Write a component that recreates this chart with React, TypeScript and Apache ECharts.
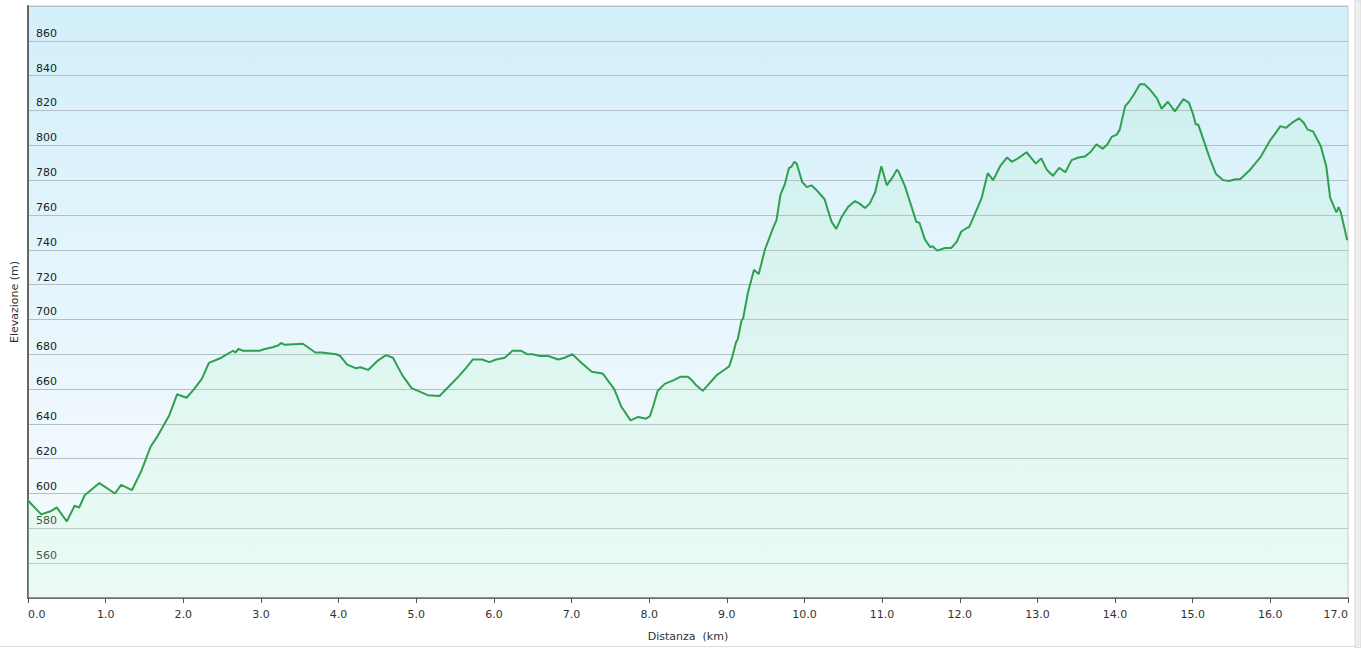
import React, { useEffect, useRef } from "react";
import * as echarts from "echarts";

const distanceKm = [
  0.0, 0.17, 0.3, 0.37, 0.5, 0.6, 0.66, 0.73, 0.92, 1.12, 1.2, 1.34, 1.46, 1.58, 1.67, 1.82, 1.92, 2.04, 2.14, 2.24,
  2.33, 2.49, 2.64, 2.67, 2.71, 2.77, 2.98, 3.05, 3.15, 3.22, 3.26, 3.3, 3.54, 3.7, 3.78, 3.97, 4.02, 4.11, 4.22, 4.28,
  4.38, 4.51, 4.61, 4.7, 4.82, 4.94, 5.15, 5.3, 5.41, 5.54, 5.64, 5.73, 5.85, 5.94, 6.03, 6.14, 6.24, 6.35, 6.43, 6.5,
  6.59, 6.7, 6.83, 6.91, 7.01, 7.13, 7.26, 7.4, 7.55, 7.64, 7.76, 7.86, 7.96, 8.01, 8.05, 8.11, 8.2, 8.31, 8.4, 8.5,
  8.54, 8.61, 8.69, 8.75, 8.82, 8.87, 8.95, 9.03, 9.07, 9.12, 9.14, 9.19, 9.21, 9.27, 9.35, 9.41, 9.49, 9.6, 9.64, 9.69,
  9.75, 9.8, 9.83, 9.87, 9.9, 9.97, 10.03, 10.09, 10.15, 10.22, 10.26, 10.3, 10.35, 10.41, 10.48, 10.56, 10.65, 10.71, 10.78, 10.84,
  10.91, 10.99, 11.06, 11.14, 11.19, 11.21, 11.29, 11.37, 11.44, 11.48, 11.55, 11.62, 11.65, 11.71, 11.81, 11.89, 11.96, 12.02, 12.09, 12.12,
  12.17, 12.28, 12.36, 12.43, 12.52, 12.61, 12.67, 12.75, 12.86, 12.98, 13.05, 13.12, 13.2, 13.28, 13.36, 13.44, 13.53, 13.61, 13.68, 13.76,
  13.84, 13.9, 13.96, 14.02, 14.06, 14.13, 14.18, 14.24, 14.32, 14.38, 14.45, 14.54, 14.6, 14.68, 14.77, 14.88, 14.95, 15.0, 15.04, 15.07,
  15.14, 15.22, 15.3, 15.39, 15.47, 15.55, 15.61, 15.74, 15.87, 16.0, 16.05, 16.13, 16.2, 16.28, 16.37, 16.43, 16.48, 16.55, 16.65, 16.72,
  16.77, 16.85, 16.88, 16.91, 16.99,
];

const elevationM = [
  596, 588, 590, 592, 584, 593, 592, 599, 606, 600, 605, 602, 613, 627, 633, 645, 657, 655, 660, 666,
  675, 678, 682, 681, 683, 682, 682, 683, 684, 685, 686.5, 685.5, 686, 681, 681, 680, 679, 674, 672, 672.5,
  671, 676.5, 679.5, 678, 668, 660.5, 656.5, 656, 661, 667, 672, 677, 677, 675.5, 677, 678, 682, 682, 680, 680,
  679, 679, 677, 678, 680, 675, 670, 669, 660, 650, 642, 644, 643, 644.5, 650, 659, 663, 665, 667, 667,
  665.5, 662, 659, 662, 665.5, 668, 670.5, 673, 678.5, 687, 688.5, 699.5, 700.5, 715, 728.5, 726, 740, 753, 757, 771.5,
  778, 787, 787.5, 790.5, 789.5, 779, 776, 777, 774.5, 771, 769, 763, 756, 752, 759, 764.5, 768, 766.5, 764, 766.5,
  773, 788, 777, 782, 786, 785, 777, 766, 756, 755.5, 746, 741.5, 742, 739.5, 741, 741, 744.5, 750.5, 752.5, 753,
  758, 769.5, 784, 780, 788, 793, 790.5, 792.5, 796, 789.5, 792.5, 786, 782.5, 787, 784.5, 791.5, 793, 793.5, 796, 800.5,
  798, 800.5, 805, 806, 809, 822.5, 825, 829, 835, 835, 832, 827, 821, 825, 819.5, 826.5, 824.5, 818.5, 812, 812,
  803, 792.5, 783.5, 780, 779.5, 780.5, 780.5, 786, 793, 803, 806, 811, 810, 813, 815.5, 813, 809, 808, 799.5, 788,
  770, 761.5, 764.5, 761, 745.5,
];

const xAxisTitle = "Distanza  (km)";
const yAxisTitle = "Elevazione (m)";

export default function App() {
  const ref = useRef<HTMLDivElement>(null);

  useEffect(() => {
    if (!ref.current) return;
    const chart = echarts.init(ref.current, undefined, { renderer: "svg" });
    const points = distanceKm.map((d, i) => [d, elevationM[i]]);
    const font = "DejaVu Sans";
    chart.setOption({
      animation: false,
      textStyle: { fontFamily: font },
      graphic: [
        { type: "rect", shape: { x: 1355, y: 0, width: 6, height: 648 }, style: { fill: "#eeeeee", stroke: "#d8d8d8", lineWidth: 1 }, silent: true },
        { type: "line", shape: { x1: 0, y1: 646.5, x2: 1355, y2: 646.5 }, style: { stroke: "#dddddd", lineWidth: 1 }, silent: true },
      ],
      grid: {
        left: 28,
        right: 13,
        top: 6,
        bottom: 50,
        show: true,
        borderColor: "#c4c9cc",
        borderWidth: 1,
        backgroundColor: new echarts.graphic.LinearGradient(0, 0, 0, 1, [
          { offset: 0, color: "#d2effa" },
          { offset: 0.7, color: "#eef8fd" },
          { offset: 1, color: "#f6fbfe" },
        ]),
      },
      xAxis: {
        type: "value",
        min: 0,
        max: 17,
        interval: 1,
        name: xAxisTitle,
        nameLocation: "middle",
        nameGap: 33,
        nameTextStyle: { fontFamily: font, fontSize: 11, color: "#333" },
        axisLine: { show: true, onZero: false, lineStyle: { color: "#555", width: 1.5 } },
        axisTick: { show: true, length: 5, lineStyle: { color: "#555" } },
        axisLabel: {
          fontFamily: font,
          fontSize: 11,
          color: "#333",
          margin: 11,
          alignMinLabel: "left",
          alignMaxLabel: "right",
          formatter: (v: number) => v.toFixed(1),
        },
        splitLine: { show: false },
      },
      yAxis: {
        type: "value",
        min: 540,
        max: 880,
        interval: 20,
        name: yAxisTitle,
        nameLocation: "middle",
        nameGap: 5,
        nameRotate: 90,
        nameTextStyle: { fontFamily: font, fontSize: 11, color: "#333" },
        axisLine: { show: true, lineStyle: { color: "#666", width: 2 } },
        axisTick: { show: false },
        axisLabel: {
          inside: true,
          margin: 8,
          fontFamily: font,
          fontSize: 11,
          color: "#222",
          verticalAlign: "bottom",
          padding: [0, 0, 2, 0],
          showMinLabel: false,
          showMaxLabel: false,
        },
        splitLine: { show: true, lineStyle: { color: "#b4bec5", width: 1 } },
      },
      series: [
        {
          type: "line",
          data: points,
          showSymbol: false,
          symbol: "none",
          lineStyle: { color: "#2ea04f", width: 2 },
          areaStyle: {
            color: new echarts.graphic.LinearGradient(0, 0, 0, 1, [
              { offset: 0, color: "rgba(150,235,170,0.2)" },
              { offset: 1, color: "rgba(200,250,210,0.35)" },
            ]),
            origin: "start",
          },
          z: 3,
        },
      ],
    });
    return () => chart.dispose();
  }, []);

  return (
    <div
      ref={ref}
      style={{ position: "fixed", left: 0, top: 0, width: 1361, height: 648, background: "#ffffff" }}
    />
  );
}
